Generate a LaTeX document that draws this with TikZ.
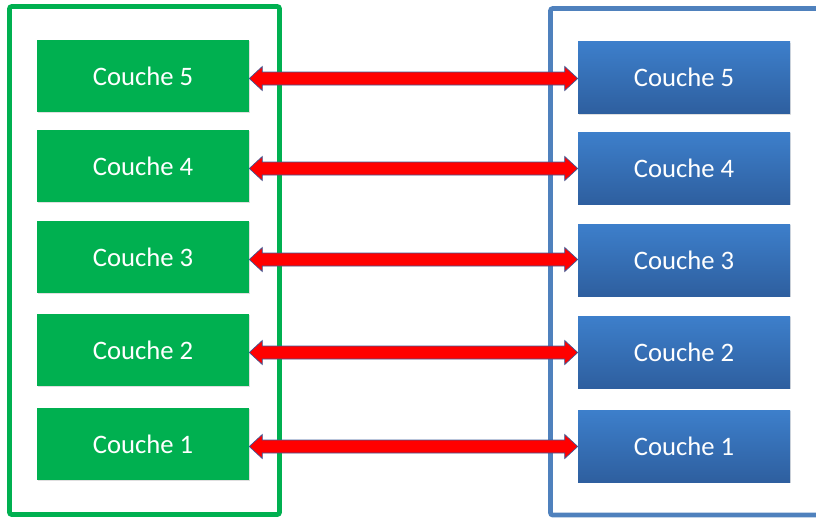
\documentclass[tikz,border=0pt]{standalone}
\usepackage{fontspec}
\setmainfont{Carlito}
\usetikzlibrary{calc,shadows}
\definecolor{ggreen}{HTML}{00B050}
\definecolor{bframe}{HTML}{4F81BD}
\definecolor{btop}{HTML}{3D7FCB}
\definecolor{bbot}{HTML}{2E5F9F}
\definecolor{aout}{HTML}{3A5C9A}
\tikzset{
  greenbox/.style={fill=ggreen, minimum width=212*0.75pt, minimum height=72*0.75pt, inner sep=0pt,
     text=white, font=\fontsize{20}{24}\selectfont, drop shadow={shadow xshift=1pt, shadow yshift=-1pt, opacity=0.25}},
  bluebox/.style={top color=btop, bottom color=bbot, minimum width=212*0.75pt, minimum height=72*0.75pt, inner sep=0pt,
     text=white, font=\fontsize{20}{24}\selectfont, drop shadow={shadow xshift=1pt, shadow yshift=-1pt, opacity=0.25}},
  redarrow/.style={fill=red, draw=aout, line width=0.5pt, line join=miter},
}
\begin{document}
\begin{tikzpicture}[x=0.75pt,y=-0.75pt]
\useasboundingbox (0,0) rectangle (816,518);
% frames
\draw[ggreen, line width=3.4pt, rounded corners=1.5pt] (9.5,6.5) rectangle (279.5,514.5);
\draw[bframe, line width=3.4pt, rounded corners=1.5pt] (550.5,8.5) rectangle (830,515);
% boxes
\foreach \i/\gy/\by in {5/76/77.5, 4/166/168, 3/257/260, 2/350/352, 1/444/446} {
  \node[greenbox] (g\i) at (143,\gy) {Couche \i};
  \node[bluebox] (b\i) at (684,\by) {Couche \i};
}
% arrows
\foreach \i in {5,4,3,2,1} {
  \coordinate (l\i) at ($(g\i.east)+(0,2.5)$);
  \coordinate (r\i) at (l\i -| b\i.west);
  \draw[redarrow] (l\i) -- ($(l\i)+(13,-12)$) -- ($(l\i)+(13,-6.5)$) -- ($(r\i)+(-13,-6.5)$)
     -- ($(r\i)+(-13,-12)$) -- (r\i) -- ($(r\i)+(-13,12)$) -- ($(r\i)+(-13,6.5)$)
     -- ($(l\i)+(13,6.5)$) -- ($(l\i)+(13,12)$) -- cycle;
}
\end{tikzpicture}
\end{document}
